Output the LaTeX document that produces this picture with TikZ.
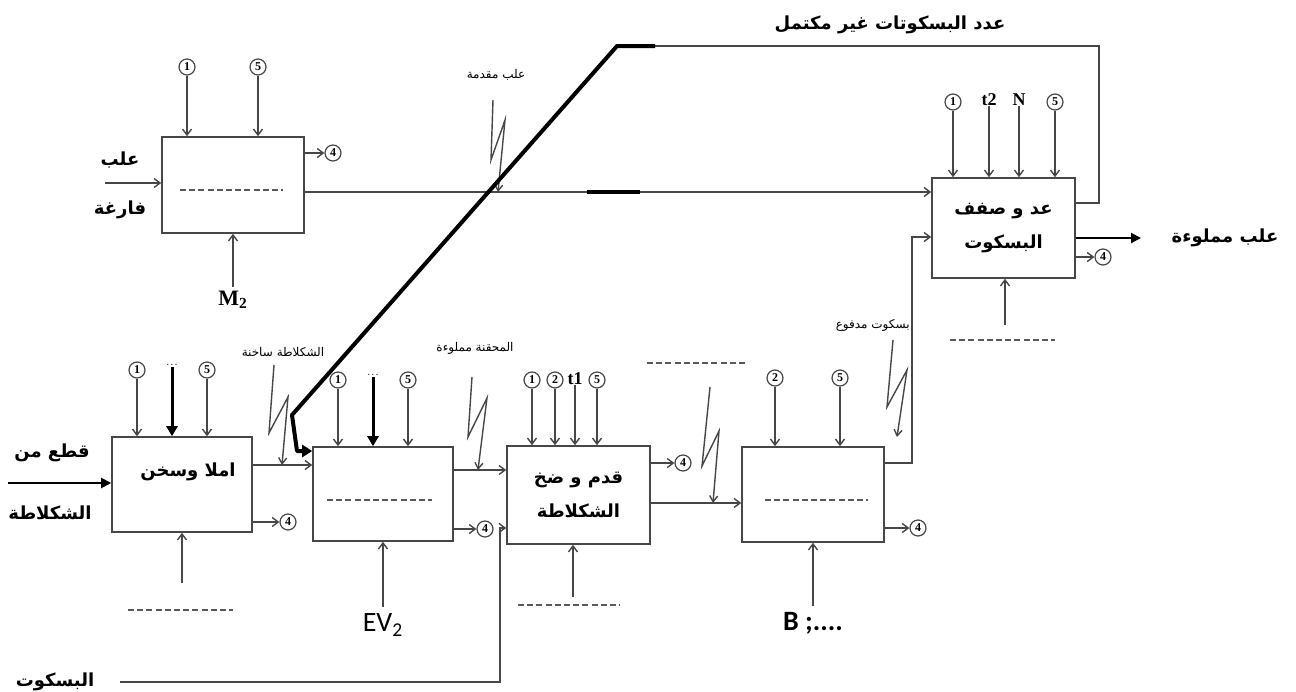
\documentclass[tikz,border=0pt]{standalone}
\usepackage{fontspec}
\usetikzlibrary{arrows.meta,calc}
\TeXXeTstate=1
\newfontfamily\arabicfont[Script=Arabic]{DejaVu Sans}
\newfontfamily\latinsans{Carlito}
\newfontfamily\latinserif{Liberation Serif}
\newcommand\artxt[1]{{\arabicfont\beginR #1\endR}}
\tikzset{
  ln/.style={draw=black!72, line width=0.7pt},
  arr/.style={ln, -{Straight Barb[length=3pt,width=4.5pt]}},
  tharr/.style={draw=black, line width=1.5pt, -{Triangle[length=5pt,width=5.5pt]}},
  midarr/.style={draw=black, line width=1pt, -{Triangle[length=5pt,width=5pt]}},
  blk/.style={draw=black!72, line width=0.8pt, inner sep=0pt},
  num/.style={circle, draw=black!72, line width=0.6pt, inner sep=0pt, minimum size=8pt,
              font=\latinserif\bfseries\fontsize{6}{6}\selectfont},
  dsh/.style={draw=black!65, line width=0.9pt, dash pattern=on 3pt off 1.6pt},
  lbl/.style={font={\arabicfont\bfseries\fontsize{9}{17}\selectfont}, inner sep=0pt, align=center},
  slbl/.style={font={\arabicfont\fontsize{6}{7}\selectfont}, inner sep=0pt},
  ltn/.style={draw=black!72, line width=0.7pt, -{Straight Barb[length=3pt,width=4pt]}},
  ser/.style={font=\latinserif\bfseries\fontsize{9}{10}\selectfont, inner sep=0pt},
  dots/.style={font=\fontsize{5}{5}\selectfont, inner sep=0.5pt}
}
\begin{document}
\begin{tikzpicture}[x=0.5pt,y=-0.5pt]
\useasboundingbox (0,0) rectangle (1296,691);

% ---------------- Block A (top-left) ----------------
\node[blk,minimum width=71pt,minimum height=48pt] (A) at (233,185) {};
\draw[dsh] ($(A.center)+(-53,5)$) -- ($(A.center)+(50,5)$);
\node[num] (A1) at (187,67) {1};
\node[num] (A5) at (258,67) {5};
\draw[arr] (A1) -- (A1 |- A.north);
\draw[arr] (A5) -- (A5 |- A.north);
\node[num] (A4) at (333,153) {4};
\draw[arr] (A4 -| A.east) -- (A4);
\coordinate (Ain) at (105,183);
\draw[arr] (Ain) -- (Ain -| A.west);
\node[lbl] (Al1) at (120,160) {\artxt{علب}};
\node[lbl] (Al2) at (120,210) {\artxt{فارغة}};
\node[font=\latinserif\bfseries\fontsize{11}{12}\selectfont, inner sep=0pt] (M2) at (233,300) {M\textsubscript{2}};
\draw[arr] ([yshift=2pt]M2.north) -- (M2.north |- A.south);

% ---------------- Block P (fill and heat) ----------------
\node[blk,minimum width=70pt,minimum height=47.5pt] (P) at (182,484.5) {};
\node[lbl] (Pt) at (188,472) {\artxt{املا وسخن}};
\node[num] (P1) at (137,370) {1};
\node[num] (P5) at (207,370) {5};
\node[dots] (Pd) at (172,365) {...};
\draw[arr] (P1) -- (P1 |- P.north);
\draw[arr] (P5) -- (P5 |- P.north);
\draw[tharr] (Pd.south) -- (Pd.south |- P.north);
\coordinate (Pin) at (8,483);
\draw[midarr] (Pin) -- (Pin -| P.west);
\node[lbl] (Pl1) at (52,453) {\artxt{قطع من}};
\node[lbl] (Pl2) at (50,513) {\artxt{الشكلاطة}};
\node[num] (P4) at (288,522) {4};
\draw[arr] (P4 -| P.east) -- (P4);
\coordinate (Pb) at (182,583);
\draw[arr] (Pb) -- (Pb |- P.south);
\draw[dsh] (128,610) -- (233,610);

% ---------------- Block B ----------------
\node[blk,minimum width=70pt,minimum height=47pt] (B) at (383,494) {};
\draw[dsh] ($(B.center)+(-56,6)$) -- ($(B.center)+(49,6)$);
\draw[arr] (P.east |- 0,465) -- (B.west |- 0,465);
\node[num] (B1) at (338,380) {1};
\node[num] (B5) at (408,380) {5};
\node[dots] (Bd) at (373,375) {...};
\draw[arr] (B1) -- (B1 |- B.north);
\draw[arr] (B5) -- (B5 |- B.north);
\draw[tharr] (Bd.south) -- (Bd.south |- B.north);
\node[num] (B4) at (485,529) {4};
\draw[arr] (B4 -| B.east) -- (B4);
\node[font=\latinsans\fontsize{14}{15}\selectfont, inner sep=0pt] (EV) at (383,625) {EV\textsubscript{2}};
\draw[arr] ([yshift=3pt]EV.north) -- (EV.north |- B.south);
% lightning P -> B
\node[slbl] (Lpb) at (283,352) {\artxt{الشكلاطة ساخنة}};
\coordinate (Lpb0) at (274,365);
\draw[ltn] (Lpb0) -- (269,433) -- (288,397) -- (282,465);

% ---------------- Block C ----------------
\node[blk,minimum width=71.5pt,minimum height=49pt,lbl] (C) at (578.5,495) {\artxt{قدم و ضخ}\\\artxt{الشكلاطة}};
\draw[arr] (B.east |- 0,470) -- (C.west |- 0,470);
\node[num] (C1) at (532,380) {1};
\node[num] (C2) at (555,380) {2};
\node[ser] (Ct) at (575,379) {t1};
\node[num] (C5) at (597,380) {5};
\draw[arr] (C1) -- (C1 |- C.north);
\draw[arr] (C2) -- (C2 |- C.north);
\draw[arr] (Ct) -- (Ct |- C.north);
\draw[arr] (C5) -- (C5 |- C.north);
\node[num] (C4) at (683,463) {4};
\draw[arr] (C4 -| C.east) -- (C4);
\coordinate (Cb) at (573,597);
\draw[arr] (Cb) -- (Cb |- C.south);
\draw[dsh] (518,605) -- (620,605);
% biscuit line
\node[lbl] (Bis) at (55,682) {\artxt{البسكوت}};
\coordinate (Bis0) at (120,682);
\coordinate (Bisc) at (500,528);
\draw[arr] (Bis0) -| (Bisc) -- (C.west |- Bisc);
% lightning B -> C
\node[slbl] (Lbc) at (475,348) {\artxt{المحقنة مملوءة}};
\coordinate (Lbc0) at (472,377);
\draw[ltn] (Lbc0) -- (468,437) -- (487,398) -- (478,470);

% ---------------- Block D ----------------
\node[blk,minimum width=71pt,minimum height=47.5pt] (D) at (813,494.5) {};
\draw[dsh] ($(D.center)+(-48,5.5)$) -- ($(D.center)+(55,5.5)$);
\draw[arr] (C.east |- 0,503) -- (D.west |- 0,503);
\node[num] (D2) at (775,378) {2};
\node[num] (D5) at (840,378) {5};
\draw[arr] (D2) -- (D2 |- D.north);
\draw[arr] (D5) -- (D5 |- D.north);
\node[num] (D4) at (918,528) {4};
\draw[arr] (D4 -| D.east) -- (D4);
\node[font=\latinsans\bfseries\fontsize{14}{15}\selectfont, inner sep=0pt] (Bl) at (813,623) {B ;....};
\draw[arr] ([yshift=3pt]Bl.north) -- (Bl.north |- D.south);
% lightning C -> D
\draw[dsh] (647,363) -- (748,363);
\coordinate (Lcd0) at (710,387);
\draw[ltn] (Lcd0) -- (702,466) -- (719,431) -- (713,503);

% ---------------- Block E ----------------
\node[blk,minimum width=71.5pt,minimum height=50pt,lbl] (E) at (1003.5,228) {\artxt{عد و صفف}\\\artxt{البسكوت}};
\node[num] (E1) at (953,102) {1};
\node[ser] (Et) at (989,100) {t2};
\node[ser] (EN) at (1019,100) {N};
\node[num] (E5) at (1055,102) {5};
\draw[arr] (E1) -- (E1 |- E.north);
\draw[arr] (Et) -- (Et |- E.north);
\draw[arr] (EN) -- (EN |- E.north);
\draw[arr] (E5) -- (E5 |- E.north);
\node[num] (E4) at (1103,257) {4};
\draw[arr] (E4 -| E.east) -- (E4);
\node[lbl] (Eo) at (1225,238) {\artxt{علب مملوءة}};
\coordinate (Eout) at (1141,238);
\draw[midarr] (E.east |- Eout) -- (Eout);
\coordinate (Eb) at (1005,325);
\draw[arr] (Eb) -- (Eb |- E.south);
\draw[dsh] (950,340) -- (1055,340);
% D -> E
\coordinate (DEc) at (912,463);
\draw[arr] (D.east |- DEc) -- (DEc) |- (E.west |- 0,237);
% lightning D -> E
\node[slbl, anchor=east] (Lde) at (910,325) {\artxt{بسكوت مدفوع}};
\coordinate (Lde0) at (893,340);
\draw[ltn] (Lde0) -- (887,407) -- (907,370) -- (897,437);

% A -> E
\draw[arr] (A.east |- 0,192) -- (E.west |- 0,192);
\draw[line width=2pt] (587,192) -- (640,192);
% lightning above A -> E
\node[slbl] (Lae) at (496,75) {\artxt{علب مقدمة}};
\coordinate (Lae0) at (493,100);
\draw[ltn] (Lae0) -- (491,160) -- (505,120) -- (498,192);

% feedback
\coordinate (Fr) at (1099,46);
\coordinate (Fm) at (655,46);
\coordinate (Fk) at (617,46);
\coordinate (Fd) at (292,415);
\coordinate (Fv) at (297,451);
\draw[ln] (E.east |- 0,203) -| (Fr) -- (Fm);
\draw[line width=2pt, line join=round, -{Triangle[length=5pt,width=6pt]}] (Fm) -- (Fk) -- (Fd) -- (Fv) -- (B.west |- Fv);
\node[lbl] (Ftop) at (890,25) {\artxt{عدد البسكوتات غير مكتمل}};
\end{tikzpicture}
\end{document}
